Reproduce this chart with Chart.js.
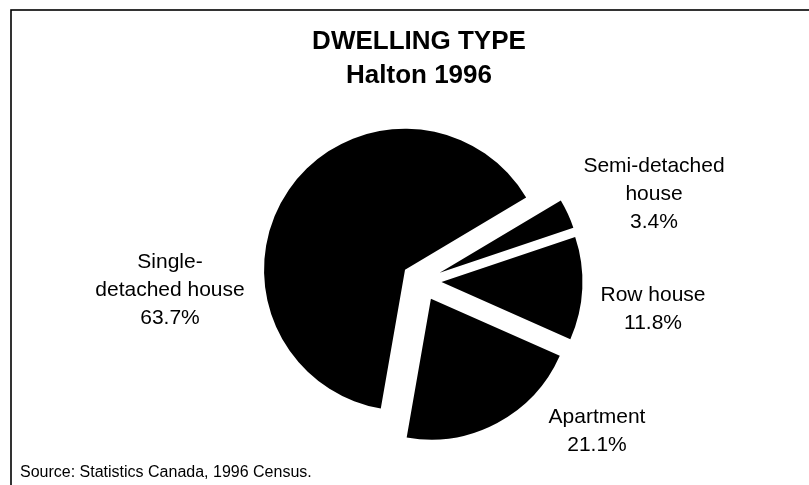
<!DOCTYPE html>
<html>
<head>
<meta charset="utf-8">
<script src="https://cdn.jsdelivr.net/npm/chart.js@4"></script>
<style>
  html, body { margin: 0; padding: 0; background: #fff; }
  #wrap { width: 809px; height: 485px; }
</style>
</head>
<body>
<div id="wrap"><canvas id="pie" width="809" height="485"></canvas></div>
<script>
// Halton dwelling mix, 1996 census
const dwellingTypes = [['Single-', 'detached house'], ['Semi-detached', 'house'], ['Row house'], ['Apartment']];
const dwellingShares = [63.7, 3.4, 11.8, 21.1];
const titleLines = ['DWELLING TYPE', 'Halton 1996'];
const sourceNote = 'Source: Statistics Canada, 1996 Census.';

// where each slice label sits: centre x, first baseline y
const labelSpots = [[170, 268], [654, 172], [653, 301], [597, 423]];
const FONT = '"Liberation Sans", Arial, sans-serif';

// pull every slice out from the centre by the same distance
const explodeSlices = {
    id: 'explodeSlices',
    beforeDatasetDraw(chart, args, opts) {
        const { ctx } = chart;
        args.meta.data.forEach(arc => {
            const mid = (arc.startAngle + arc.endAngle) / 2;
            ctx.save();
            ctx.translate(Math.cos(mid) * opts.distance, Math.sin(mid) * opts.distance);
            arc.draw(ctx);
            ctx.restore();
        });
        return false;
    }
};

// frame, title, slice labels and source line
const annotations = {
    id: 'annotations',
    afterDraw(chart) {
        const { ctx } = chart;
        ctx.save();
        ctx.strokeStyle = '#000';
        ctx.lineWidth = 1.6;
        ctx.strokeRect(11, 10, 900, 600);

        ctx.fillStyle = '#000';
        ctx.textAlign = 'center';
        ctx.textBaseline = 'alphabetic';
        ctx.font = `bold 26px ${FONT}`;
        titleLines.forEach((t, i) => ctx.fillText(t, 419, 49 + i * 34));

        ctx.font = `21px ${FONT}`;
        dwellingTypes.forEach((lines, i) => {
            const [x, y] = labelSpots[i];
            const rows = [...lines, dwellingShares[i].toFixed(1) + '%'];
            rows.forEach((r, j) => ctx.fillText(r, x, y + j * 28));
        });

        ctx.textAlign = 'left';
        ctx.font = `16px ${FONT}`;
        ctx.fillText(sourceNote, 20, 477);
        ctx.restore();
    }
};

new Chart(document.getElementById('pie'), {
    type: 'pie',
    data: {
        labels: dwellingTypes.map(l => l.join(' ')),
        datasets: [{
            data: dwellingShares,
            backgroundColor: '#000',
            borderWidth: 0,
            offset: 0,
            hoverOffset: 0
        }]
    },
    options: {
        responsive: false,
        devicePixelRatio: 1,
        animation: false,
        rotation: 189.9,
        layout: { padding: { left: 280.5, right: 246.5, top: 140, bottom: 63 } },
        events: [],
        plugins: {
            legend: { display: false },
            tooltip: { enabled: false },
            explodeSlices: { distance: 20 }
        }
    },
    plugins: [explodeSlices, annotations]
});
</script>
</body>
</html>
